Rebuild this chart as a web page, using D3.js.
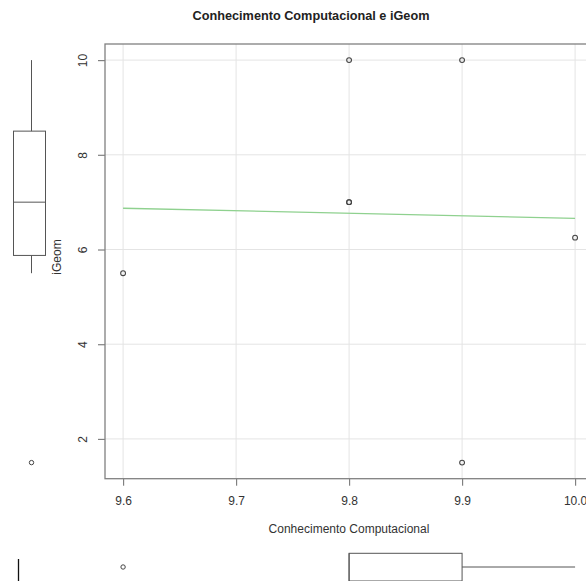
<!DOCTYPE html>
<html>
<head>
<meta charset="utf-8">
<script src="https://cdn.jsdelivr.net/npm/d3@7"></script>
<style>
  html, body { margin: 0; padding: 0; background: #fff; overflow: hidden; }
  svg { display: block; font-family: "Liberation Sans", Arial, sans-serif; }
</style>
</head>
<body>
<svg id="chart" width="586" height="581"></svg>
<script>
// ---- data ----
const xValues = [9.6, 9.8, 9.8, 9.8, 9.9, 9.9, 10.0];   // Conhecimento Computacional
const yValues = [5.5, 10, 7, 7, 10, 1.5, 6.25];          // iGeom
const xTicks = [9.6, 9.7, 9.8, 9.9, 10.0];
const xTickLabels = ["9.6", "9.7", "9.8", "9.9", "10.0"];
const yTicks = [2, 4, 6, 8, 10];
const yTickLabels = ["2", "4", "6", "8", "10"];
const titleText = "Conhecimento Computacional e iGeom";
const xLabelText = "Conhecimento Computacional";
const yLabelText = "iGeom";

// ---- layout ----
const plot = { left: 105, top: 44, bottom: 478.7 };
const svg = d3.select("#chart");

function ext(arr) {
  const [a, b] = d3.extent(arr);
  const pad = (b - a) * 0.04;
  return [a - pad, b + pad];
}
const xDom = ext(xValues), yDom = ext(yValues);
const pxPerX = 1130;
const plotRight = plot.left + (xDom[1] - xDom[0]) * pxPerX;
const x = d3.scaleLinear().domain(xDom).range([plot.left, plotRight]);
const y = d3.scaleLinear().domain(yDom).range([plot.bottom, plot.top]);

const textColor = "#333";
const axisColor = "#808080";
const gridColor = "#e4e4e4";
const pointColor = "#444";

// grid
svg.append("g").selectAll("line").data(xTicks).join("line")
  .attr("x1", d => x(d)).attr("x2", d => x(d))
  .attr("y1", plot.top).attr("y2", plot.bottom)
  .attr("stroke", gridColor).attr("stroke-width", 1);
svg.append("g").selectAll("line").data(yTicks).join("line")
  .attr("y1", d => y(d)).attr("y2", d => y(d))
  .attr("x1", plot.left).attr("x2", plotRight)
  .attr("stroke", gridColor).attr("stroke-width", 1);

// frame
svg.append("rect")
  .attr("x", plot.left).attr("y", plot.top)
  .attr("width", plotRight - plot.left).attr("height", plot.bottom - plot.top)
  .attr("fill", "none").attr("stroke", axisColor).attr("stroke-width", 1.3);

// x axis
const xAxis = d3.axisBottom(x).tickValues(xTicks)
  .tickFormat((d, i) => xTickLabels[i]).tickSize(7).tickPadding(11);
const gx = svg.append("g").attr("transform", `translate(0,${plot.bottom})`).call(xAxis);
gx.select(".domain").remove();
gx.selectAll(".tick line").attr("stroke", axisColor).attr("stroke-width", 1.2);
gx.selectAll(".tick text").attr("fill", textColor).attr("font-size", 12)
  .attr("font-family", "Liberation Sans, Arial, sans-serif");

// y axis
const yAxis = d3.axisLeft(y).tickValues(yTicks)
  .tickFormat((d, i) => yTickLabels[i]).tickSize(7).tickPadding(0);
const gy = svg.append("g").attr("transform", `translate(${plot.left},0)`).call(yAxis);
gy.select(".domain").remove();
gy.selectAll(".tick line").attr("stroke", axisColor).attr("stroke-width", 1.2);
gy.selectAll(".tick text").attr("fill", textColor).attr("font-size", 12)
  .attr("font-family", "Liberation Sans, Arial, sans-serif")
  .attr("x", 0).attr("dy", null)
  .attr("text-anchor", "middle")
  .attr("transform", "translate(-18,0) rotate(-90)");

// regression line (least squares)
const mx = d3.mean(xValues), my = d3.mean(yValues);
const sxy = d3.sum(xValues, (d, i) => (d - mx) * (yValues[i] - my));
const sxx = d3.sum(xValues, d => (d - mx) ** 2);
const slope = sxy / sxx, intercept = my - slope * mx;
const [xmin, xmax] = d3.extent(xValues);
svg.append("line")
  .attr("x1", x(xmin)).attr("y1", y(intercept + slope * xmin))
  .attr("x2", x(xmax)).attr("y2", y(intercept + slope * xmax))
  .attr("stroke", "#8fd18f").attr("stroke-width", 1.3);

// points
svg.append("g").selectAll("circle").data(xValues).join("circle")
  .attr("cx", d => x(d)).attr("cy", (d, i) => y(yValues[i]))
  .attr("r", 2.4).attr("fill", "none")
  .attr("stroke", pointColor).attr("stroke-width", 1.1);

// Tukey boxplot stats
function boxStats(values) {
  const s = values.slice().sort(d3.ascending);
  const n = s.length;
  const n4 = Math.floor((n + 3) / 2) / 2;
  const at = p => 0.5 * (s[Math.floor(p) - 1] + s[Math.ceil(p) - 1]);
  const lo = at(n4), med = at((n + 1) / 2), hi = at(n + 1 - n4);
  const iqr = hi - lo;
  const inside = s.filter(v => v >= lo - 1.5 * iqr && v <= hi + 1.5 * iqr);
  return { lo, med, hi, wLo: d3.min(inside), wHi: d3.max(inside),
           out: s.filter(v => v < lo - 1.5 * iqr || v > hi + 1.5 * iqr) };
}

const boxStroke = "#555";
// left (vertical) boxplot of iGeom
const yb = boxStats(yValues);
const vb = { x0: 13.5, x1: 45.5, wx: 31.5 };
const gL = svg.append("g").attr("fill", "none").attr("stroke", boxStroke).attr("stroke-width", 1);
gL.append("rect").attr("x", vb.x0).attr("y", y(yb.hi))
  .attr("width", vb.x1 - vb.x0).attr("height", y(yb.lo) - y(yb.hi));
gL.append("line").attr("x1", vb.x0).attr("x2", vb.x1).attr("y1", y(yb.med)).attr("y2", y(yb.med));
gL.append("line").attr("x1", vb.wx).attr("x2", vb.wx).attr("y1", y(yb.hi)).attr("y2", y(yb.wHi));
gL.append("line").attr("x1", vb.wx).attr("x2", vb.wx).attr("y1", y(yb.lo)).attr("y2", y(yb.wLo));
gL.selectAll("circle").data(yb.out).join("circle")
  .attr("cx", vb.wx).attr("cy", d => y(d)).attr("r", 2.2).attr("stroke", pointColor);

// bottom (horizontal) boxplot of Conhecimento Computacional
const xb = boxStats(xValues);
const hb = { y0: 553.3, y1: 581, wy: 567 };
const gB = svg.append("g").attr("fill", "none").attr("stroke", boxStroke).attr("stroke-width", 1);
gB.append("rect").attr("x", x(xb.lo)).attr("y", hb.y0)
  .attr("width", x(xb.hi) - x(xb.lo)).attr("height", hb.y1 - hb.y0);
gB.append("line").attr("x1", x(xb.med)).attr("x2", x(xb.med)).attr("y1", hb.y0).attr("y2", hb.y1);
gB.append("line").attr("x1", x(xb.hi)).attr("x2", x(xb.wHi)).attr("y1", hb.wy).attr("y2", hb.wy);
gB.append("line").attr("x1", x(xb.lo)).attr("x2", x(xb.wLo)).attr("y1", hb.wy).attr("y2", hb.wy);
gB.selectAll("circle").data(xb.out).join("circle")
  .attr("cx", d => x(d)).attr("cy", hb.wy).attr("r", 2.2).attr("stroke", pointColor);

// small cursor-like mark at bottom-left
svg.append("line").attr("x1", 18.5).attr("x2", 18.5).attr("y1", 559).attr("y2", 581)
  .attr("stroke", "#111").attr("stroke-width", 1.3);

// titles
svg.append("text").attr("x", 311).attr("y", 19.5).attr("text-anchor", "middle")
  .attr("font-size", 12.7).attr("font-weight", "bold").attr("fill", "#222").text(titleText);
svg.append("text").attr("x", 349).attr("y", 533).attr("text-anchor", "middle")
  .attr("font-size", 12).attr("fill", textColor).text(xLabelText);
svg.append("text").attr("transform", "translate(61,257) rotate(-90)").attr("text-anchor", "middle")
  .attr("font-size", 12).attr("fill", textColor).text(yLabelText);
</script>
</body>
</html>
